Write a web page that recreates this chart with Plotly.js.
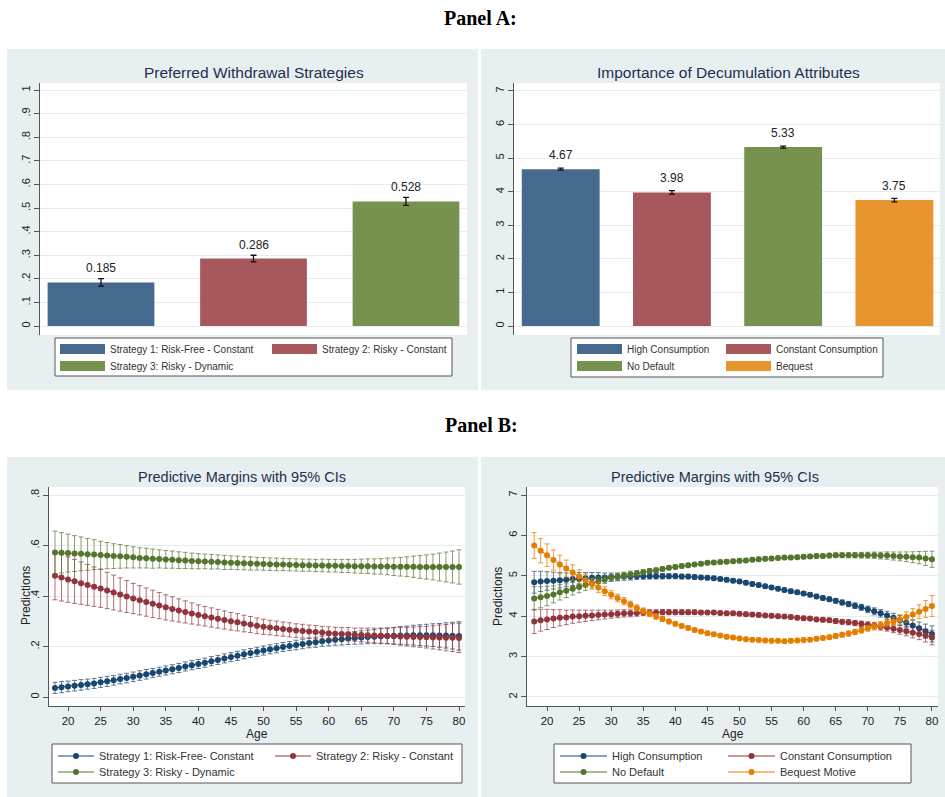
<!DOCTYPE html>
<html><head><meta charset="utf-8">
<script src="https://cdn.plot.ly/plotly-3.0.1.min.js"></script>
<style>html,body{margin:0;padding:0;background:#fff;}#chart{width:945px;height:797px;}</style>
</head><body><div id="chart"></div>
<script>
// ---------- Panel A data ----------
const stratLabels = ['Strategy 1: Risk-Free - Constant', 'Strategy 2: Risky - Constant', 'Strategy 3: Risky - Dynamic'];
const stratShares = [0.185, 0.286, 0.528];
const stratErr = [0.016, 0.014, 0.017];
const attrLabels = ['High Consumption', 'Constant Consumption', 'No Default', 'Bequest'];
const attrScores = [4.67, 3.98, 5.33, 3.75];
const attrErr = [0.03, 0.05, 0.03, 0.05];

// ---------- Panel B data ----------
const ages = [18,19,20,21,22,23,24,25,26,27,28,29,30,31,32,33,34,35,36,37,38,39,40,41,42,43,44,45,46,47,48,49,50,51,52,53,54,55,56,57,58,59,60,61,62,63,64,65,66,67,68,69,70,71,72,73,74,75,76,77,78,79,80];
const stratLineLabels = ['Strategy 1: Risk-Free- Constant', 'Strategy 2: Risky - Constant', 'Strategy 3: Risky - Dynamic'];
const s1 = [0.036,0.039,0.042,0.045,0.048,0.051,0.054,0.058,0.062,0.066,
 0.071,0.075,0.080,0.085,0.090,0.095,0.100,0.105,0.110,0.115,
 0.121,0.126,0.131,0.136,0.142,0.147,0.153,0.158,0.163,0.169,
 0.174,0.179,0.184,0.189,0.193,0.198,0.202,0.206,0.210,0.214,
 0.217,0.221,0.224,0.227,0.229,0.232,0.234,0.236,0.238,0.239,
 0.241,0.242,0.243,0.244,0.244,0.245,0.245,0.245,0.245,0.244,
 0.244,0.243,0.242];
const s1ci = [0.022,0.022,0.021,0.021,0.021,0.020,0.020,0.020,0.020,0.019,
 0.019,0.019,0.019,0.019,0.019,0.018,0.018,0.018,0.018,0.018,
 0.018,0.018,0.018,0.018,0.018,0.018,0.018,0.018,0.018,0.018,
 0.018,0.018,0.018,0.018,0.018,0.018,0.018,0.019,0.019,0.019,
 0.020,0.020,0.021,0.022,0.023,0.024,0.025,0.026,0.027,0.028,
 0.030,0.031,0.033,0.035,0.037,0.039,0.041,0.043,0.045,0.047,
 0.050,0.053,0.056];
const s2 = [0.480,0.473,0.465,0.458,0.451,0.444,0.437,0.430,0.422,0.414,
 0.406,0.398,0.390,0.383,0.376,0.369,0.362,0.355,0.349,0.343,
 0.337,0.331,0.325,0.320,0.315,0.310,0.305,0.300,0.296,0.291,
 0.287,0.282,0.278,0.275,0.272,0.269,0.266,0.263,0.261,0.259,
 0.257,0.255,0.253,0.251,0.250,0.249,0.247,0.246,0.245,0.244,
 0.243,0.242,0.241,0.240,0.239,0.238,0.238,0.237,0.236,0.236,
 0.235,0.235,0.234];
const s2ci = [0.095,0.093,0.090,0.087,0.084,0.081,0.078,0.075,0.072,0.069,
 0.066,0.063,0.060,0.058,0.056,0.054,0.052,0.050,0.048,0.046,
 0.044,0.042,0.040,0.039,0.038,0.037,0.036,0.035,0.034,0.033,
 0.032,0.031,0.030,0.029,0.029,0.028,0.028,0.027,0.027,0.026,
 0.026,0.025,0.025,0.025,0.025,0.026,0.026,0.027,0.028,0.029,
 0.030,0.031,0.033,0.035,0.037,0.039,0.041,0.043,0.046,0.049,
 0.052,0.055,0.058];
const s3 = [0.572,0.571,0.570,0.568,0.567,0.565,0.564,0.562,0.560,0.558,
 0.557,0.555,0.553,0.551,0.550,0.548,0.547,0.545,0.544,0.542,
 0.541,0.539,0.538,0.537,0.536,0.535,0.533,0.532,0.531,0.530,
 0.529,0.528,0.527,0.526,0.525,0.525,0.524,0.523,0.522,0.522,
 0.521,0.521,0.520,0.520,0.519,0.519,0.518,0.518,0.518,0.517,
 0.517,0.517,0.516,0.516,0.516,0.516,0.515,0.515,0.515,0.515,
 0.515,0.515,0.515];
const s3ci = [0.085,0.080,0.075,0.071,0.067,0.063,0.059,0.055,0.052,0.049,
 0.047,0.044,0.042,0.040,0.039,0.038,0.036,0.035,0.034,0.033,
 0.032,0.031,0.030,0.029,0.029,0.028,0.028,0.027,0.027,0.026,
 0.026,0.025,0.025,0.025,0.025,0.024,0.024,0.024,0.024,0.024,
 0.024,0.025,0.025,0.025,0.026,0.026,0.027,0.028,0.029,0.030,
 0.031,0.033,0.035,0.037,0.039,0.042,0.045,0.048,0.051,0.055,
 0.059,0.063,0.068];

const attrLineLabels = ['High Consumption', 'Constant Consumption', 'No Default', 'Bequest Motive'];
const hc = [4.84,4.86,4.87,4.88,4.89,4.90,4.92,4.93,4.94,4.95,
 4.96,4.96,4.97,4.97,4.98,4.98,4.99,4.99,4.99,4.99,
 4.99,4.99,4.99,4.98,4.98,4.97,4.96,4.95,4.94,4.92,
 4.90,4.88,4.86,4.83,4.80,4.77,4.74,4.71,4.68,4.65,
 4.62,4.59,4.56,4.53,4.49,4.45,4.42,4.38,4.34,4.30,
 4.26,4.22,4.17,4.12,4.07,4.02,3.96,3.90,3.84,3.77,
 3.70,3.63,3.56];
const hcci = [0.27,0.25,0.23,0.21,0.19,0.17,0.16,0.15,0.14,0.13,
 0.12,0.11,0.10,0.095,0.09,0.085,0.08,0.075,0.07,0.068,
 0.065,0.062,0.060,0.058,0.056,0.054,0.052,0.050,0.050,0.050,
 0.050,0.050,0.050,0.050,0.050,0.050,0.050,0.050,0.050,0.050,
 0.050,0.050,0.050,0.052,0.054,0.056,0.058,0.060,0.063,0.066,
 0.070,0.075,0.080,0.087,0.094,0.102,0.111,0.120,0.130,0.142,
 0.156,0.175,0.200];
const cc = [3.87,3.90,3.92,3.94,3.96,3.97,3.99,4.00,4.01,4.02,
 4.03,4.04,4.05,4.06,4.07,4.07,4.08,4.09,4.09,4.09,
 4.10,4.10,4.10,4.10,4.10,4.10,4.09,4.09,4.09,4.08,
 4.07,4.07,4.06,4.05,4.04,4.03,4.02,4.01,4.00,3.99,
 3.98,3.96,3.95,3.94,3.92,3.91,3.90,3.88,3.86,3.85,
 3.83,3.81,3.79,3.77,3.74,3.72,3.69,3.66,3.63,3.59,
 3.56,3.52,3.47];
const ccci = [0.30,0.27,0.25,0.22,0.20,0.18,0.165,0.15,0.14,0.13,
 0.12,0.11,0.10,0.095,0.09,0.085,0.08,0.075,0.07,0.068,
 0.065,0.062,0.060,0.058,0.056,0.054,0.052,0.050,0.050,0.050,
 0.050,0.050,0.050,0.050,0.050,0.050,0.050,0.050,0.050,0.050,
 0.050,0.050,0.050,0.051,0.052,0.054,0.056,0.058,0.060,0.062,
 0.065,0.068,0.072,0.077,0.083,0.090,0.098,0.106,0.115,0.126,
 0.140,0.158,0.180];
const nd = [4.44,4.47,4.50,4.54,4.59,4.63,4.68,4.72,4.77,4.82,
 4.86,4.91,4.95,4.98,5.01,5.04,5.06,5.09,5.12,5.14,
 5.17,5.20,5.22,5.24,5.26,5.28,5.30,5.32,5.33,5.34,
 5.35,5.36,5.37,5.38,5.40,5.41,5.42,5.43,5.44,5.45,
 5.45,5.46,5.47,5.48,5.49,5.49,5.50,5.51,5.51,5.51,
 5.51,5.51,5.51,5.51,5.50,5.50,5.49,5.48,5.47,5.46,
 5.45,5.43,5.41];
const ndci = [0.29,0.26,0.24,0.21,0.19,0.17,0.155,0.14,0.13,0.12,
 0.11,0.10,0.09,0.085,0.08,0.075,0.07,0.065,0.06,0.058,
 0.055,0.052,0.050,0.050,0.050,0.050,0.050,0.050,0.050,0.050,
 0.050,0.050,0.050,0.050,0.050,0.050,0.050,0.050,0.050,0.050,
 0.050,0.050,0.050,0.051,0.052,0.054,0.056,0.058,0.060,0.063,
 0.066,0.070,0.074,0.079,0.085,0.092,0.100,0.110,0.121,0.135,
 0.152,0.175,0.200];
const bq = [5.75,5.62,5.51,5.39,5.28,5.18,5.08,4.98,4.89,4.80,
 4.71,4.62,4.53,4.45,4.37,4.29,4.20,4.13,4.06,3.99,
 3.93,3.87,3.81,3.76,3.71,3.66,3.62,3.58,3.55,3.52,
 3.49,3.47,3.45,3.43,3.42,3.41,3.40,3.39,3.39,3.38,
 3.39,3.40,3.41,3.42,3.44,3.46,3.48,3.51,3.54,3.57,
 3.61,3.65,3.70,3.74,3.78,3.83,3.87,3.92,3.98,4.04,
 4.11,4.18,4.25];
const bqci = [0.32,0.30,0.28,0.25,0.23,0.21,0.19,0.17,0.15,0.13,
 0.12,0.11,0.10,0.095,0.09,0.085,0.08,0.075,0.07,0.065,
 0.06,0.058,0.055,0.053,0.052,0.051,0.050,0.050,0.050,0.050,
 0.050,0.050,0.050,0.050,0.050,0.050,0.050,0.050,0.050,0.050,
 0.050,0.050,0.050,0.051,0.052,0.054,0.056,0.058,0.060,0.063,
 0.066,0.070,0.074,0.080,0.087,0.095,0.104,0.115,0.128,0.145,
 0.170,0.210,0.260];

const ageTicks = [20,25,30,35,40,45,50,55,60,65,70,75,80];
const shareTicks = [0,0.1,0.2,0.3,0.4,0.5,0.6,0.7,0.8,0.9,1];
const shareTickText = ['0','.1','.2','.3','.4','.5','.6','.7','.8','.9','1'];
const scoreTicks = [0,1,2,3,4,5,6,7];
const predTicksL = [0,0.2,0.4,0.6,0.8];
const predTickTextL = ['0','.2','.4','.6','.8'];
const predTicksR = [2,3,4,5,6,7];

// ---------- styling ----------
const W = 945, H = 797;
const fx = p => p / W;
const fy = p => 1 - p / H;
const FONT = 'Liberation Sans, Arial, sans-serif';
const barColors = ['#456a8d', '#a7585c', '#77914f', '#e9952f'];
const lineColors = ['#1a476f', '#90353b', '#55752f', '#e37e00'];
const ciColors = ['rgba(26,71,111,0.7)', 'rgba(144,53,59,0.7)', 'rgba(85,117,47,0.7)', 'rgba(227,126,0,0.75)'];
const PANEL_BG = '#e8eff1';
const GRID = '#e7edef';
const AXC = '#555';

const traces = [];
// Panel A left bars
traces.push({type:'bar', x: stratLabels, y: stratShares, width: 0.7, xaxis:'x', yaxis:'y',
  marker:{color: barColors.slice(0,3)}, showlegend:false, hoverinfo:'x+y',
  error_y:{type:'data', array: stratErr, visible:true, color:'#111', thickness:1.3, width:3}});
// Panel A right bars
traces.push({type:'bar', x: attrLabels, y: attrScores, width: 0.7, xaxis:'x2', yaxis:'y2',
  marker:{color: barColors}, showlegend:false, hoverinfo:'x+y',
  error_y:{type:'data', array: attrErr, visible:true, color:'#111', thickness:1.3, width:3}});
// legend swatches for bars (split into rows)
const rowLegA = ['legend','legend','legend2'];
stratLabels.forEach((lab, i) => traces.push({type:'scatter', mode:'lines', x:[null], y:[null], xaxis:'x', yaxis:'y',
  name: lab, legend: rowLegA[i], line:{color: barColors[i], width:10}, hoverinfo:'skip'}));
const rowLegB = ['legend3','legend3','legend4','legend4'];
attrLabels.forEach((lab, i) => traces.push({type:'scatter', mode:'lines', x:[null], y:[null], xaxis:'x2', yaxis:'y2',
  name: lab, legend: rowLegB[i], legendwidth: (i % 2 === 1) ? 130 : 89,
  line:{color: barColors[i], width:10}, hoverinfo:'skip'}));

// Panel B left lines
const leftSeries = [[s1, s1ci], [s2, s2ci], [s3, s3ci]];
const rowLegC = ['legend5','legend5','legend6'];
leftSeries.forEach((s, i) => traces.push({type:'scatter', mode:'lines+markers', x: ages, y: s[0], xaxis:'x3', yaxis:'y3',
  name: stratLineLabels[i], legend: rowLegC[i],
  line:{color: lineColors[i], width:1}, marker:{color: lineColors[i], size:6},
  error_y:{type:'data', array: s[1], visible:true, color: ciColors[i], thickness:1, width:2.5}}));
// Panel B right lines
const rightSeries = [[hc, hcci], [cc, ccci], [nd, ndci], [bq, bqci]];
const rowLegD = ['legend7','legend7','legend8','legend8'];
rightSeries.forEach((s, i) => traces.push({type:'scatter', mode:'lines+markers', x: ages, y: s[0], xaxis:'x4', yaxis:'y4',
  name: attrLineLabels[i], legend: rowLegD[i], legendwidth: (i % 2 === 1) ? 140 : 106,
  line:{color: lineColors[i], width:1}, marker:{color: lineColors[i], size:6},
  error_y:{type:'data', array: s[1], visible:true, color: ciColors[i], thickness:1, width:2.5}}));

const tickFont = {family: FONT, size: 11, color: '#222'};
function yAxis(top, bot, range, vals, text, anchor) {
  return {domain:[fy(bot), fy(top)], range: range, tickvals: vals, ticktext: text, tickangle:-90,
    ticks:'outside', ticklen:5, tickcolor: AXC, showline:true, linecolor: AXC, linewidth:1,
    showgrid:true, gridcolor: GRID, gridwidth:1, zeroline:false, anchor: anchor, tickfont: tickFont, fixedrange:true};
}
function barX(left, right, range, anchor) {
  return {domain:[fx(left), fx(right)], range: range, type:'category', showticklabels:false, ticks:'',
    showline:false, showgrid:false, zeroline:false, anchor: anchor, fixedrange:true};
}
function ageX(left, right, range, anchor) {
  return {domain:[fx(left), fx(right)], range: range, tickvals: ageTicks, ticks:'outside', ticklen:4, tickcolor: AXC,
    showline:true, linecolor: AXC, linewidth:1, showgrid:false, zeroline:false, anchor: anchor,
    tickfont:{family: FONT, size: 11.5, color:'#222'}, fixedrange:true};
}
function legendRow(xp, yp, itemw, entryw, size) {
  return {x: fx(xp), y: fy(yp), xanchor:'left', yanchor:'middle', orientation:'h', bgcolor:'rgba(0,0,0,0)',
    borderwidth:0, itemwidth: itemw, entrywidth: entryw, entrywidthmode:'pixels', traceorder:'normal',
    font:{family: FONT, size: size, color:'#333'}, itemclick:false, itemdoubleclick:false,
    tracegroupgap:0, valign:'middle'};
}

const ann = [];
function txt(x, y, text, size, opts) {
  ann.push(Object.assign({xref:'paper', yref:'paper', x: fx(x), y: fy(y), text: text, showarrow:false,
    xanchor:'center', yanchor:'middle', font:{family: FONT, size: size, color:'#1f2f4d'}}, opts || {}));
}
txt(480, 18, '<b>Panel A:</b>', 20, {font:{family:'Liberation Serif, Times New Roman, serif', size:20, color:'#000'}});
txt(481, 425, '<b>Panel B:</b>', 20, {font:{family:'Liberation Serif, Times New Roman, serif', size:20, color:'#000'}});
txt(254, 72, 'Preferred Withdrawal Strategies', 15.5);
txt(728, 72, 'Importance of Decumulation Attributes', 15.5);
txt(242, 477, 'Predictive Margins with 95% CIs', 14.5);
txt(715, 477, 'Predictive Margins with 95% CIs', 14.5);
txt(257, 734, 'Age', 12, {font:{family: FONT, size:12, color:'#222'}});
txt(733, 734, 'Age', 12, {font:{family: FONT, size:12, color:'#222'}});
txt(26, 596, 'Predictions', 12, {textangle:-90, font:{family: FONT, size:12, color:'#222'}});
txt(498, 597, 'Predictions', 12, {textangle:-90, font:{family: FONT, size:12, color:'#222'}});
stratLabels.forEach((c, i) => ann.push({xref:'x', yref:'y', x: c, y: stratShares[i], text: String(stratShares[i]),
  showarrow:false, yanchor:'bottom', yshift:5, font:{family: FONT, size:12, color:'#222'}}));
attrLabels.forEach((c, i) => ann.push({xref:'x2', yref:'y2', x: c, y: attrScores[i], text: String(attrScores[i]),
  showarrow:false, yanchor:'bottom', yshift:5, font:{family: FONT, size:12, color:'#222'}}));

function rect(x0, y0, x1, y1, fill, line) {
  return {type:'rect', xref:'paper', yref:'paper', x0: fx(x0), x1: fx(x1), y0: fy(y1), y1: fy(y0),
    fillcolor: fill, line: line || {width:0}, layer:'below'};
}
const shapes = [
  rect(0, 0, 945, 49, '#ffffff'),
  rect(0, 390, 945, 457, '#ffffff'),
  rect(0, 0, 7, 797, '#ffffff'),
  rect(478, 0, 481, 797, '#ffffff'),
  rect(55, 338, 452, 376, '#ffffff', {color:'#555', width:1}),
  rect(571, 338, 883, 377, '#ffffff', {color:'#555', width:1}),
  rect(52, 744, 462, 783, '#ffffff', {color:'#555', width:1}),
  rect(554, 744, 911, 783, '#ffffff', {color:'#555', width:1})
];

const layout = {
  width: W, height: H, margin:{l:0, r:0, t:0, b:0},
  paper_bgcolor: PANEL_BG, plot_bgcolor:'#ffffff',
  font:{family: FONT, color:'#222'}, barmode:'overlay', hovermode:false,
  xaxis: barX(40, 467, [-0.4, 2.4], 'y'),
  yaxis: yAxis(83, 335, [-0.038, 1.03], shareTicks, shareTickText, 'x'),
  xaxis2: barX(514, 940, [-0.42, 3.41], 'y2'),
  yaxis2: yAxis(83, 335, [-0.268, 7.238], scoreTicks, scoreTicks.map(String), 'x2'),
  xaxis3: ageX(49, 465, [17.08, 80.92], 'y3'),
  yaxis3: yAxis(487, 706, [-0.0356, 0.8317], predTicksL, predTickTextL, 'x3'),
  xaxis4: ageX(527, 938, [16.88, 80.94], 'y4'),
  yaxis4: yAxis(487, 706, [1.777, 7.198], predTicksR, predTicksR.map(String), 'x4'),
  legend:  legendRow(55, 349, 45, 152, 10),
  legend2: legendRow(55, 366, 45, 152, 10),
  legend3: legendRow(572, 349, 45, 89, 10),
  legend4: legendRow(572, 366, 45, 89, 10),
  legend5: legendRow(53, 756, 36, 166, 11),
  legend6: legendRow(53, 772, 36, 166, 11),
  legend7: legendRow(555, 756, 47, 106, 11),
  legend8: legendRow(555, 772, 47, 106, 11),
  annotations: ann,
  shapes: shapes
};
Plotly.newPlot('chart', traces, layout, {displayModeBar:false, staticPlot:true});
</script></body></html>
